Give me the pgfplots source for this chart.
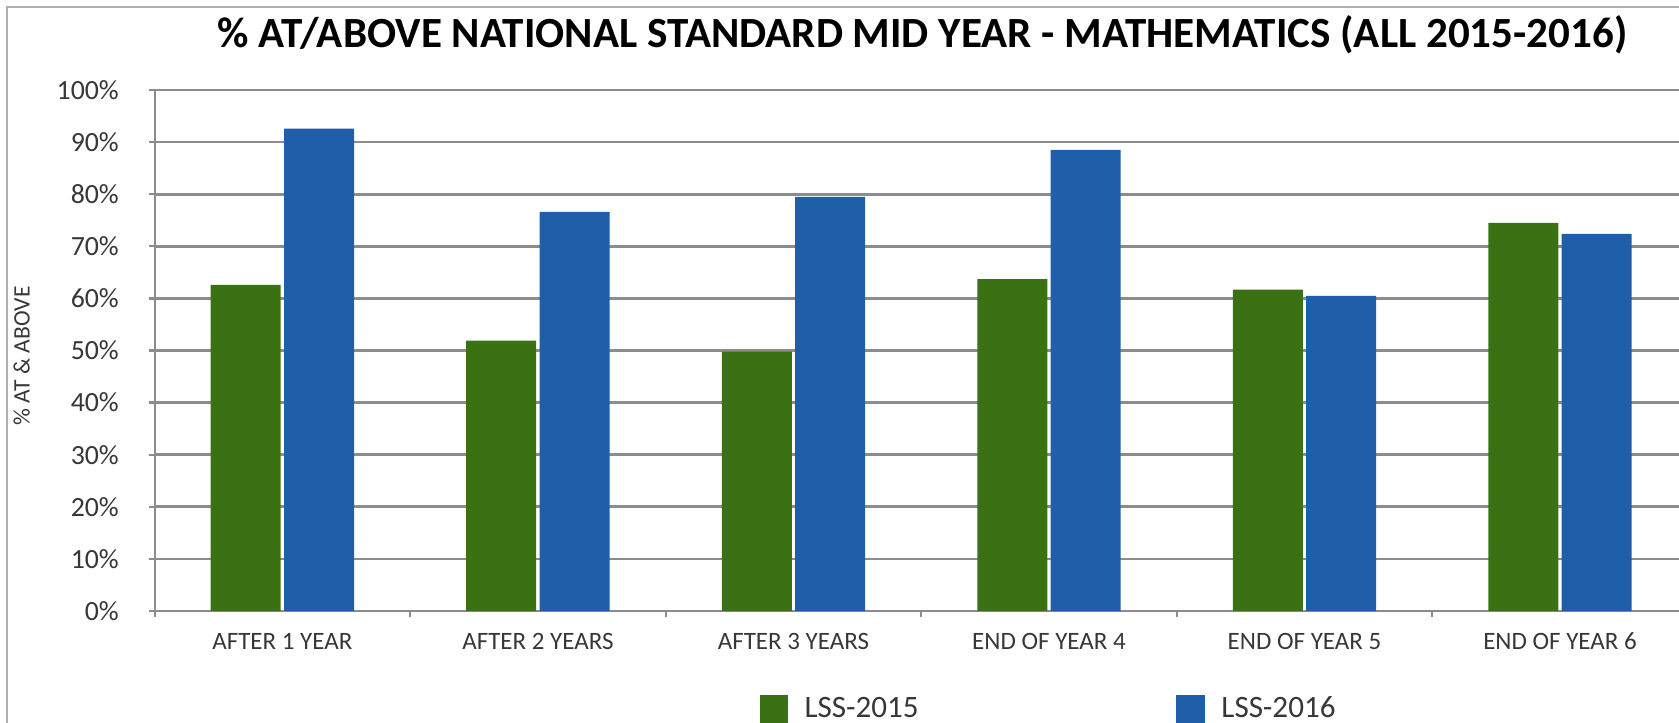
\documentclass[border=0pt]{standalone}
\usepackage{fontspec}
\setmainfont{Carlito}
\usepackage{pgfplots}
\pgfplotsset{compat=1.18}
\definecolor{cgreen}{RGB}{57,113,19}
\definecolor{cblue}{RGB}{31,94,168}
\definecolor{cgrid}{RGB}{140,140,140}
\definecolor{ctext}{RGB}{55,55,55}
\definecolor{cframe}{RGB}{175,175,175}

\begin{document}
\begin{tikzpicture}
\useasboundingbox (0pt,0pt) rectangle (604.44pt,-259.92pt);
\draw[cframe, line width=0.8pt] (2.52pt,-270pt) -- (2.52pt,-2.52pt) -- (620pt,-2.52pt);
\node[font=\bfseries\fontsize{15.5}{17}\selectfont, anchor=base] at (332.1pt,-17.0pt)
  {\% AT/ABOVE NATIONAL STANDARD MID YEAR - MATHEMATICS (ALL 2015-2016)};
\node[font=\fontsize{8.5}{10}\selectfont, text=ctext, rotate=90, anchor=center] at (7.81pt,-128.16pt)
  {\% AT \& ABOVE};
\begin{axis}[
  at={(55.66pt,-219.96pt)}, anchor=south west,
  scale only axis, width=551.95pt, height=187.56pt,
  xmin=-0.5, xmax=5.5, ymin=0, ymax=100,
  axis x line*=bottom, axis y line*=left,
  axis line style={cgrid, line width=0.8pt},
  tick style={cgrid, line width=0.8pt},
  tick align=outside, major tick length=2.2pt,
  ytick={0,10,...,100},
  yticklabels={0\%,10\%,20\%,30\%,40\%,50\%,60\%,70\%,80\%,90\%,100\%},
  yticklabel style={font=\fontsize{10}{12}\selectfont, text=ctext, inner sep=0pt, anchor=east, xshift=-10.5pt},
  ymajorgrids, major grid style={cgrid, line width=1pt},
  xtick={-0.5,0.5,...,5.5}, xticklabels={},
  extra x ticks={0,1,2,3,4,5},
  extra x tick labels={AFTER 1 YEAR,AFTER 2 YEARS,AFTER 3 YEARS,END OF YEAR 4,END OF YEAR 5,END OF YEAR 6},
  extra x tick style={major tick length=0pt, xticklabel style={font=\fontsize{9}{10}\selectfont, text=ctext, inner sep=0pt, anchor=base, yshift=-13.8pt}},
  legend style={at={(0.3942,-0.1881)}, anchor=west, draw=none, fill=none, inner sep=0pt,
    font=\fontsize{11.2}{13}\selectfont, text=ctext, nodes={inner sep=0pt},
    /tikz/every even column/.append style={column sep=92.8pt}},
  legend columns=2,
]
\addplot[ybar, bar width=25.2pt, bar shift=-13.2pt, fill=cgreen, draw=none,
  legend image code/.code={\fill[cgreen] (0pt,-5.2pt) rectangle (10.4pt,5.2pt); \path (16.2pt,0pt);}]
  coordinates {(0,62.6) (1,51.9) (2,49.8) (3,63.7) (4,61.7) (5,74.5)};
\addlegendentry{LSS-2015}
\addplot[ybar, bar width=25.2pt, bar shift=13.2pt, fill=cblue, draw=none,
  legend image code/.code={\fill[cblue] (0pt,-5.2pt) rectangle (10.4pt,5.2pt); \path (16.2pt,0pt);}]
  coordinates {(0,92.6) (1,76.6) (2,79.5) (3,88.5) (4,60.5) (5,72.4)};
\addlegendentry{LSS-2016}
\end{axis}
\end{tikzpicture}
\end{document}
